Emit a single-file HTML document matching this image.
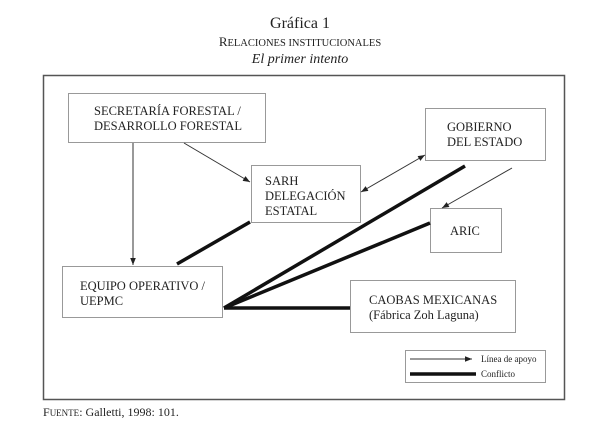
<!DOCTYPE html>
<html><head><meta charset="utf-8"><style>
body{margin:0;background:#fff;}
svg{display:block;font-family:"Liberation Serif",serif;}
</style></head><body>
<svg width="600" height="444" viewBox="0 0 600 444" xmlns="http://www.w3.org/2000/svg">
<defs>
<marker id="a" viewBox="0 0 10 10" refX="10" refY="5" markerWidth="7" markerHeight="7" orient="auto-start-reverse" markerUnits="userSpaceOnUse"><path d="M0,1 L10,5 L0,9z" fill="#222"/></marker>
</defs>
<text x="300" y="28" text-anchor="middle" font-size="16" fill="#222">Gráfica 1</text>
<text x="300" y="46" text-anchor="middle" font-size="13" fill="#222">R<tspan font-size="10.5">ELACIONES INSTITUCIONALES</tspan></text>
<text x="300" y="63" text-anchor="middle" font-size="14" font-style="italic" fill="#222">El primer intento</text>
<rect x="43.5" y="75.5" width="521" height="324" fill="none" stroke="#555" stroke-width="1.5"/>
<g fill="#fff" stroke="#999" stroke-width="1">
<rect x="68.5" y="93.5" width="197" height="49"/>
<rect x="425.5" y="108.5" width="120" height="52"/>
<rect x="251.5" y="165.5" width="109" height="57"/>
<rect x="430.5" y="208.5" width="71" height="44"/>
<rect x="62.5" y="266.5" width="160" height="51"/>
<rect x="350.5" y="280.5" width="165" height="52"/>
<rect x="405.5" y="350.5" width="140" height="32"/>
</g>
<g font-size="12.5" fill="#222">
<text x="94" y="115">SECRETARÍA FORESTAL /</text>
<text x="94" y="130">DESARROLLO FORESTAL</text>
<text x="447" y="131">GOBIERNO</text>
<text x="447" y="146">DEL ESTADO</text>
<text x="265" y="185">SARH</text>
<text x="265" y="200">DELEGACIÓN</text>
<text x="265" y="215">ESTATAL</text>
<text x="450" y="235">ARIC</text>
<text x="80" y="290">EQUIPO OPERATIVO /</text>
<text x="80" y="305">UEPMC</text>
<text x="369" y="304">CAOBAS MEXICANAS</text>
<text x="369" y="319">(Fábrica Zoh Laguna)</text>
</g>
<g stroke="#333" stroke-width="1" fill="none">
<line x1="133" y1="143" x2="133" y2="265" marker-end="url(#a)"/>
<line x1="184" y1="143" x2="250" y2="182" marker-end="url(#a)"/>
<line x1="361" y1="192" x2="425" y2="155" marker-end="url(#a)" marker-start="url(#a)"/>
<line x1="512" y1="168" x2="442" y2="208" marker-end="url(#a)"/>
<line x1="410" y1="359" x2="472" y2="359" marker-end="url(#a)"/>
</g>
<g stroke="#111" stroke-width="3.5" fill="none">
<line x1="250" y1="222" x2="177" y2="264"/>
<line x1="224" y1="308" x2="465" y2="166"/>
<line x1="224" y1="308" x2="430" y2="223"/>
<line x1="224" y1="308" x2="350" y2="308"/>
<line x1="410" y1="374" x2="476" y2="374"/>
</g>
<text x="481" y="362" font-size="9" fill="#222">Línea de apoyo</text>
<text x="481" y="377" font-size="9" fill="#222">Conflicto</text>
<text x="43" y="416" font-size="12" fill="#222">F<tspan font-size="9">UENTE</tspan>: Galletti, 1998: 101.</text>
</svg>
</body></html>
